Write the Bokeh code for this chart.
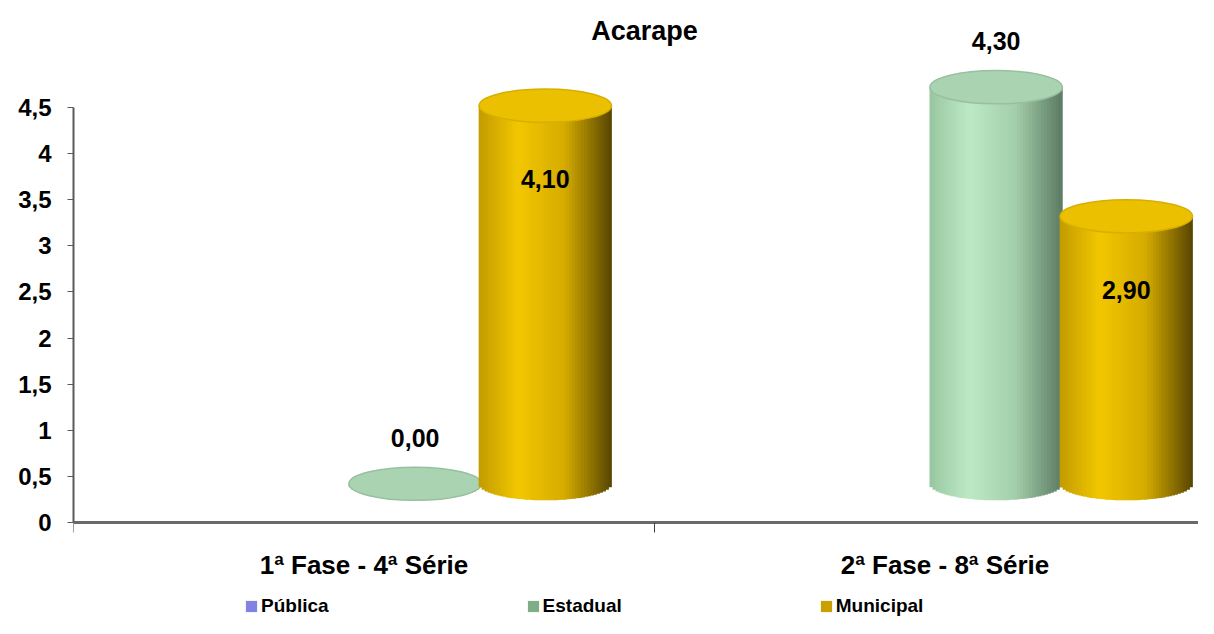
import math
from bokeh.plotting import figure
from bokeh.models import ColumnDataSource, Range1d, FixedTicker, Legend, LegendItem, Label
from bokeh.core.properties import value
from bokeh.embed import file_html
from bokeh.resources import INLINE

# ---------------- data ----------------
title_text = "Acarape"
categories = ["1ª Fase - 4ª Série", "2ª Fase - 8ª Série"]
series_names = ["Pública", "Estadual", "Municipal"]
publica = [float("nan"), float("nan")]
estadual = [0.00, 4.30]
municipal = [4.10, 2.90]
y_ticks = [0.0, 0.5, 1.0, 1.5, 2.0, 2.5, 3.0, 3.5, 4.0, 4.5]
y_tick_labels = ["0", "0,5", "1", "1,5", "2", "2,5", "3", "3,5", "4", "4,5"]

# ---------------- layout / style ----------------
FONT = "Liberation Sans"
W, H = 1198, 618
LEFT = 73            # y-axis line position (px)
ZERO_PX = 522        # y pixel of value 0
cat_px = 581.0       # width of one category (px)
px_per_unit = 415.0 / 4.5
x_end = (W - LEFT) / cat_px
y_start = -(H - ZERO_PX) / px_per_unit
y_end = ZERO_PX / px_per_unit

series_values = {"Pública": publica, "Estadual": estadual, "Municipal": municipal}
offsets = {"Pública": -0.134, "Estadual": 0.088, "Municipal": 0.312}
bar_w = 0.228
base = 0.42          # 3D depth lift
ell_h = 0.36         # ellipse height in data units
label_mode = {"Estadual": "above", "Municipal": "inside", "Pública": "above"}
stops = {
    "Pública": [(-1, "#6C6CC4"), (-0.35, "#A4A4F2"), (0.3, "#8A8AD8"), (1, "#40407A")],
    "Estadual": [(-1, "#98C6A0"), (-0.4, "#BDEAC4"), (0.3, "#A3CEAA"), (1, "#5C7B63")],
    "Municipal": [(-1, "#C29B00"), (-0.4, "#F2C700"), (0.3, "#D5AB00"), (1, "#584600")],
}
top_color = {"Pública": "#9A9AE8", "Estadual": "#AAD4B1", "Municipal": "#EBC000"}
top_rim = {"Pública": "#8080D0", "Estadual": "#98C0A0", "Municipal": "#D8AE00"}
legend_color = {"Pública": "#8282E2", "Estadual": "#7FAE86", "Municipal": "#C9A000"}


def hex2rgb(h):
    h = h.lstrip("#")
    return tuple(int(h[i:i + 2], 16) for i in (0, 2, 4))


def shade(name, u):
    st = stops[name]
    for (u0, c0), (u1, c1) in zip(st[:-1], st[1:]):
        if u0 <= u <= u1:
            t = (u - u0) / (u1 - u0)
            a, b = hex2rgb(c0), hex2rgb(c1)
            return "#%02x%02x%02x" % tuple(int(round(a[i] + (b[i] - a[i]) * t)) for i in range(3))
    return st[-1][1]


p = figure(width=W, height=H, output_backend="svg", toolbar_location=None,
           x_range=Range1d(0, x_end), y_range=Range1d(y_start, y_end),
           min_border_left=LEFT, min_border_right=0, min_border_top=0,
           min_border_bottom=0)
p.outline_line_color = None
p.xgrid.visible = False
p.ygrid.visible = False
p.background_fill_color = "white"
p.border_fill_color = "white"

# ---------------- cylinders ----------------
N = 44
lab_x, lab_y, lab_t = [], [], []
for name in series_names:
    vals = series_values[name]
    sx, sb, st, sc = [], [], [], []
    ex, ey, ec, el = [], [], [], []
    for i, v in enumerate(vals):
        if v is None or (isinstance(v, float) and math.isnan(v)):
            continue
        cx = i + 0.5 + offsets[name]
        top = base + v
        for k in range(N):
            u = -1 + (2 * k + 1) / N
            sx.append(cx + u * bar_w / 2)
            sb.append(base - (ell_h / 2) * math.sqrt(max(0.0, 1 - u * u)))
            st.append(top)
            sc.append(shade(name, u))
        ex.append(cx)
        ey.append(top)
        ec.append(top_color[name])
        el.append(top_rim[name])
        lab_x.append(cx)
        if label_mode[name] == "inside":
            lab_y.append(top - 0.8)
        else:
            lab_y.append(top + 0.5)
        lab_t.append(("%.2f" % v).replace(".", ","))
    if sx:
        p.vbar(x="x", bottom="b", top="t", width=bar_w / N * 1.25, fill_color="c",
               line_color=None, source=ColumnDataSource(dict(x=sx, b=sb, t=st, c=sc)))
        p.ellipse(x="x", y="y", width=bar_w, height=ell_h, fill_color="c", line_color="l",
                  line_width=1.5, source=ColumnDataSource(dict(x=ex, y=ey, c=ec, l=el)))

p.text(x=lab_x, y=lab_y, text=lab_t, text_font=value(FONT), text_font_style="bold",
       text_font_size="25px", text_align="center", text_baseline="middle", text_color="black")

# ---------------- title ----------------
p.add_layout(Label(x=(644 - LEFT) / cat_px, y=(ZERO_PX - 30) / px_per_unit, text=title_text,
                   text_font=FONT, text_font_style="bold", text_font_size="27px",
                   text_align="center", text_baseline="middle", text_color="black"))

# ---------------- axes ----------------
ya = p.yaxis[0]
ya.ticker = FixedTicker(ticks=y_ticks, minor_ticks=[])
ya.major_label_overrides = {t: l for t, l in zip(y_ticks, y_tick_labels)}
ya.bounds = (0, 4.5)
ya.axis_line_color = "#5a5a5a"
ya.axis_line_width = 2
ya.major_tick_line_color = "#5a5a5a"
ya.major_tick_out = 6
ya.major_tick_in = 0
ya.major_label_standoff = 16
ya.major_label_text_font = FONT
ya.major_label_text_font_style = "bold"
ya.major_label_text_font_size = "24px"
ya.major_label_text_color = "black"

xa = p.xaxis[0]
xa.fixed_location = 0
xa.ticker = FixedTicker(ticks=[0.5, 1.5], minor_ticks=[0.0, 1.0, 2.0])
xa.major_label_overrides = {0.5: categories[0], 1.5: categories[1]}
xa.axis_line_color = "#6a6a6a"
xa.axis_line_width = 3
xa.major_tick_line_color = None
xa.major_tick_out = 0
xa.major_tick_in = 0
xa.minor_tick_line_color = "#404040"
xa.minor_tick_out = 10
xa.minor_tick_in = 0
xa.major_label_standoff = 17
xa.major_label_text_font = FONT
xa.major_label_text_font_style = "bold"
xa.major_label_text_font_size = "26px"
xa.major_label_text_color = "black"

# ---------------- legend ----------------
items = []
for name in series_names:
    r = p.vbar(x=[float("nan")], top=[float("nan")], width=0.1,
               fill_color=legend_color[name], line_color=None)
    items.append(LegendItem(label=name, renderers=[r]))
legend = Legend(items=items, orientation="horizontal", location=(171, 1))
legend.padding = 0
legend.margin = 0
legend.border_line_color = None
legend.background_fill_alpha = 0
legend.glyph_width = 14
legend.glyph_height = 14
legend.label_standoff = 3
legend.spacing = 197
legend.label_text_font = FONT
legend.label_text_font_style = "bold"
legend.label_text_font_size = "19px"
legend.label_text_color = "black"
p.add_layout(legend, "center")

open("out.html", "w").write(file_html(p, INLINE))
